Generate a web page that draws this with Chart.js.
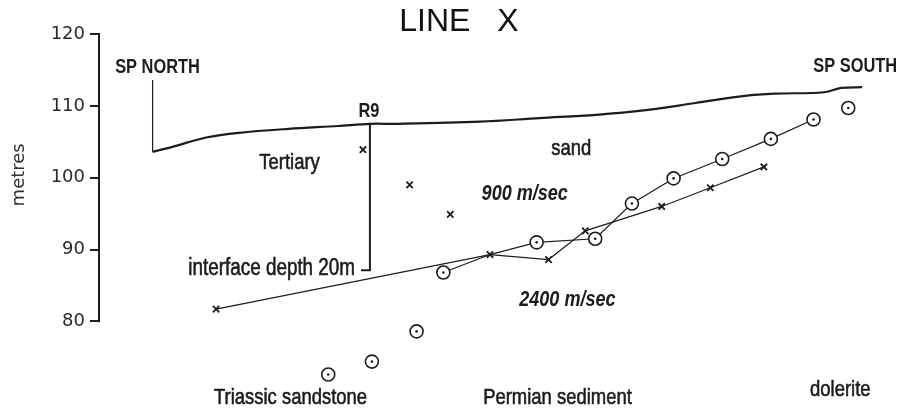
<!DOCTYPE html>
<html>
<head>
<meta charset="utf-8">
<script src="https://cdn.jsdelivr.net/npm/chart.js@4.4.1/dist/chart.umd.min.js"></script>
<style>
html,body{margin:0;padding:0;background:#fff;}
#wrap{width:902px;height:409px;}
</style>
</head>
<body>
<div id="wrap"><canvas id="c" width="902" height="409"></canvas></div>
<script>
// ---- data (distance along line in m, elevation in metres) ----
const yTicks = [80, 90, 100, 110, 120];

const surfaceX = [54, 74, 108, 141, 191, 241, 273, 301, 384, 444, 501, 551, 601, 651, 681, 731, 748, 769];
const surfaceY = [103.6, 104.3, 105.6, 106.25, 106.8, 107.2, 107.5, 107.5, 107.8, 108.3, 108.75, 109.4, 110.4, 111.4, 111.7, 111.9, 112.5, 112.6];

const spNorthX = [54, 54];
const spNorthY = [113.6, 103.6];

const r9X = [273, 273, 264];
const r9Y = [107.5, 87.1, 87.1];

const crossX = [118, 266, 313, 354, 394, 453, 490, 567, 616, 670];
const crossY = [81.7, 103.9, 99.0, 94.9, 89.3, 88.6, 92.6, 96.0, 98.6, 101.5];

const crossLineX = [118, 394, 453, 490, 567, 616, 670];
const crossLineY = [81.7, 89.3, 88.6, 92.6, 96.0, 98.6, 101.5];

const circleX = [231, 275, 320, 347, 441, 500, 537, 579, 628, 677, 720, 755];
const circleY = [72.6, 74.4, 78.6, 86.8, 91.0, 91.5, 96.4, 99.9, 102.6, 105.4, 108.1, 109.7];

const circleLineX = [347, 394, 441, 500, 537, 579, 628, 677, 720];
const circleLineY = [86.8, 89.3, 91.0, 91.5, 96.4, 99.9, 102.6, 105.4, 108.1];

const labelTexts = ['SP NORTH', 'SP SOUTH', 'R9', 'Tertiary', 'sand', '900 m/sec', '2400 m/sec', 'interface depth 20m', 'Triassic sandstone', 'Permian sediment', 'dolerite'];
const labelX = [59, 762, 272, 192, 476, 429, 472, 258, 193, 462, 747];
const labelY = [114.58, 114.72, 108.47, 101.25, 103.2, 96.9, 82.1, 86.5, 68.5, 68.5, 69.6];

const axisTitle = 'metres';
const axisTitleValue = 100.4;

// ---- helpers ----
const pts = (xs, ys) => xs.map((x, i) => ({x: x, y: ys[i]}));
const INK = '#1c1c1c';
const SANS = "'Liberation Sans', Arial, sans-serif";
const labelStyles = {
  'SP NORTH': {font: 'bold 20px ' + SANS, align: 'center', stroke: 0},
  'SP SOUTH': {font: 'bold 20px ' + SANS, align: 'center', stroke: 0},
  'R9': {font: 'bold 20px ' + SANS, align: 'center', stroke: 0},
  '900 m/sec': {font: 'italic bold 22px ' + SANS, align: 'center', stroke: 0},
  '2400 m/sec': {font: 'italic bold 22px ' + SANS, align: 'center', stroke: 0},
  'interface depth 20m': {font: '23px ' + SANS, align: 'right', stroke: 0.6},
};
const defaultLabel = {font: '22.5px ' + SANS, align: 'center', stroke: 0.6};
const NARROW_SCALE = 0.82;

const labelPlugin = {
  id: 'geoLabels',
  afterDatasetsDraw(chart) {
    const ctx = chart.ctx;
    const xs = chart.scales.x, ys = chart.scales.y;
    ctx.save();
    // y axis line from the lowest to highest tick only
    ctx.strokeStyle = INK;
    ctx.lineWidth = 2;
    ctx.beginPath();
    const ax = chart.chartArea.left;
    ctx.moveTo(ax, ys.getPixelForValue(yTicks[yTicks.length - 1]) - 1);
    ctx.lineTo(ax, ys.getPixelForValue(yTicks[0]) + 1);
    ctx.stroke();

    // axis title
    ctx.fillStyle = '#333';
    ctx.font = "18px 'DejaVu Sans', sans-serif";
    ctx.textAlign = 'center';
    ctx.textBaseline = 'middle';
    ctx.save();
    ctx.translate(19, ys.getPixelForValue(axisTitleValue));
    ctx.rotate(-Math.PI / 2);
    ctx.fillText(axisTitle, 0, 0);
    ctx.restore();

    // annotations (condensed lettering)
    ctx.fillStyle = INK;
    ctx.strokeStyle = INK;
    ctx.textBaseline = 'alphabetic';
    labelTexts.forEach((t, i) => {
      const st = labelStyles[t] || defaultLabel;
      ctx.save();
      ctx.font = st.font;
      ctx.textAlign = st.align;
      ctx.translate(xs.getPixelForValue(labelX[i]), ys.getPixelForValue(labelY[i]));
      ctx.scale(NARROW_SCALE, 1);
      ctx.fillText(t, 0, 0);
      if (st.stroke) { ctx.lineWidth = st.stroke; ctx.strokeText(t, 0, 0); }
      ctx.restore();
    });
    ctx.restore();
  }
};

const lineDs = (label, data, width, order) => ({
  type: 'line', label: label, data: data, borderColor: INK, borderWidth: width,
  pointRadius: 0, fill: false, tension: 0, clip: false, order: order
});

const surface = lineDs('surface', pts(surfaceX, surfaceY), 2.2, 10);
surface.tension = 0.35;

new Chart(document.getElementById('c'), {
  type: 'scatter',
  data: {
    datasets: [
      {label: 'circle centres', data: pts(circleX, circleY), pointStyle: 'circle', pointRadius: 1.3,
       pointBackgroundColor: INK, pointBorderColor: INK, pointBorderWidth: 0, showLine: false, clip: false, order: 0},
      {label: 'circles', data: pts(circleX, circleY), pointStyle: 'circle', pointRadius: 6.5,
       pointBackgroundColor: '#ffffff', pointBorderColor: INK, pointBorderWidth: 1.6, showLine: false, clip: false, order: 1},
      {label: 'crosses', data: pts(crossX, crossY), pointStyle: 'crossRot', pointRadius: 4.5,
       pointBorderColor: INK, pointBorderWidth: 1.8, showLine: false, clip: false, order: 2},
      lineDs('cross refractor', pts(crossLineX, crossLineY), 1.2, 5),
      lineDs('circle refractor', pts(circleLineX, circleLineY), 1.2, 5),
      surface,
      lineDs('SP north', pts(spNorthX, spNorthY), 1.2, 10),
      lineDs('R9', pts(r9X, r9Y), 2, 10)
    ]
  },
  options: {
    responsive: false,
    animation: false,
    events: [],
    layout: {padding: {left: 0, right: 2, top: 0, bottom: 15}},
    plugins: {
      legend: {display: false},
      tooltip: {enabled: false},
      title: {
        display: true, text: '  LINE   X', color: '#111',
        font: {family: "'Liberation Sans', Arial, sans-serif", size: 32, weight: 'normal', lineHeight: 0.72},
        padding: {top: 11, bottom: 0}
      }
    },
    scales: {
      x: {type: 'linear', min: 0, max: 801, display: false},
      y: {
        type: 'linear', min: 70, max: 120,
        afterFit(scale) { scale.width = 99; },
        afterBuildTicks(scale) { scale.ticks = yTicks.map(v => ({value: v})); },
        ticks: {color: '#2a2a2a', padding: 5, font: {family: "'DejaVu Sans', sans-serif", size: 18}},
        grid: {drawOnChartArea: false, drawTicks: true, tickLength: 9, color: INK, lineWidth: 2},
        border: {display: false},
        title: {display: false}
      }
    }
  },
  plugins: [labelPlugin]
});
</script>
</body>
</html>
